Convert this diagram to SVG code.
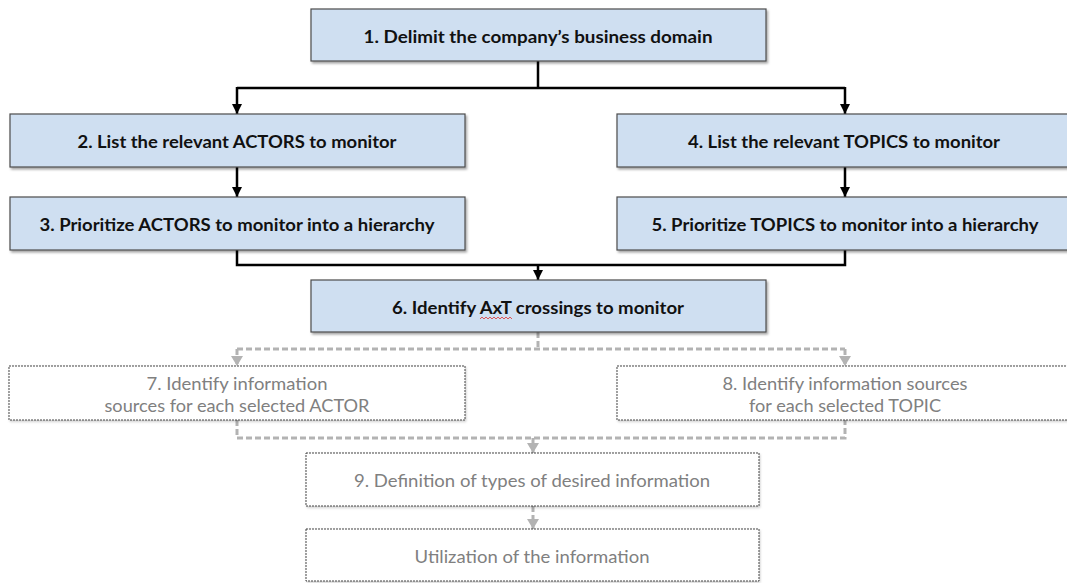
<svg xmlns="http://www.w3.org/2000/svg" width="1067" height="583" viewBox="0 0 1067 583">
<style>
.bx{fill:#cfdff1;stroke:#4d4d4d;stroke-width:1.2;filter:url(#sh)}
.dbx{fill:#ffffff;stroke:#444;stroke-width:1;stroke-dasharray:2 1;filter:url(#sh2)}
.bt{font-family:Lato,"Liberation Sans",sans-serif;font-weight:bold;font-size:16.5px;fill:#111;text-anchor:middle}
.gt{font-family:Lato,"Liberation Sans",sans-serif;font-size:16.5px;fill:#808080;text-anchor:middle}
.bl{fill:none;stroke:#000;stroke-width:2.5}
.ba{fill:none;stroke:#000;stroke-width:2.5;marker-end:url(#ab)}
.gl{fill:none;stroke:#b3b3b3;stroke-width:3;stroke-dasharray:6 3}
.ga{fill:none;stroke:#b3b3b3;stroke-width:3;stroke-dasharray:6 3;marker-end:url(#ag)}
</style>
<defs>
<filter id="sh" x="-5%" y="-20%" width="110%" height="150%">
<feDropShadow dx="1.5" dy="2" stdDeviation="1.2" flood-color="#000" flood-opacity="0.35"/>
</filter>
<filter id="sh2" x="-5%" y="-20%" width="110%" height="150%">
<feDropShadow dx="1" dy="1.5" stdDeviation="1" flood-color="#000" flood-opacity="0.2"/>
</filter>
<marker id="ab" markerUnits="userSpaceOnUse" markerWidth="12" markerHeight="10" refX="10" refY="5" orient="auto">
<path d="M0,0 L10,5 L0,10 z" fill="#000"/>
</marker>
<marker id="ag" markerUnits="userSpaceOnUse" markerWidth="12" markerHeight="12" refX="10" refY="6" orient="auto">
<path d="M0,0 L10,6 L0,12 z" fill="#b3b3b3"/>
</marker>
</defs>

<g id="connectors">
<path class="bl" d="M538,61 V88 M237,88 H845"/>
<path class="ba" d="M237,87 V114"/>
<path class="ba" d="M845,87 V114"/>
<path class="ba" d="M237,167 V197"/>
<path class="ba" d="M845,167 V197"/>
<path class="bl" d="M237,250 V265 H845 V250"/>
<path class="ba" d="M538,265 V280"/>
<path class="gl" d="M538,332 V349 M237,349 H845"/>
<path class="ga" d="M237,349 V366"/>
<path class="ga" d="M845,349 V366"/>
<path class="gl" d="M237,420 V438 H845 V420"/>
<path class="ga" d="M533,438 V453"/>
<path class="ga" d="M533,506 V529"/>
</g>

<g id="n1"><rect class="bx" x="311" y="9" width="455" height="52"/><text class="bt" x="538" y="43" textLength="349" lengthAdjust="spacingAndGlyphs">1. Delimit the company’s business domain</text></g>
<g id="n2"><rect class="bx" x="10" y="114" width="455" height="53"/><text class="bt" x="237" y="148" textLength="319" lengthAdjust="spacingAndGlyphs">2. List the relevant ACTORS to monitor</text></g>
<g id="n3"><rect class="bx" x="10" y="197" width="455" height="53"/><text class="bt" x="237" y="231" textLength="395" lengthAdjust="spacingAndGlyphs">3. Prioritize ACTORS to monitor into a hierarchy</text></g>
<g id="n4"><rect class="bx" x="617" y="114" width="456" height="53"/><text class="bt" x="844" y="148" textLength="312" lengthAdjust="spacingAndGlyphs">4. List the relevant TOPICS to monitor</text></g>
<g id="n5"><rect class="bx" x="617" y="197" width="456" height="53"/><text class="bt" x="845" y="231" textLength="387" lengthAdjust="spacingAndGlyphs">5. Prioritize TOPICS to monitor into a hierarchy</text></g>
<g id="n6"><rect class="bx" x="311" y="280" width="455" height="52"/><text class="bt" x="538" y="314" textLength="292" lengthAdjust="spacingAndGlyphs">6. Identify AxT crossings to monitor</text>
<path d="M480,319 l2,-2 l2,2 l2,-2 l2,2 l2,-2 l2,2 l2,-2 l2,2 l2,-2 l2,2 l2,-2 l2,2 l2,-2 l2,2 l2,-2 l2,2" fill="none" stroke="#e03030" stroke-width="0.8"/></g>
<g id="n7"><rect class="dbx" x="9" y="366" width="456" height="54"/><text class="gt" x="237" y="390" textLength="181" lengthAdjust="spacingAndGlyphs">7. Identify information</text><text class="gt" x="237" y="412" textLength="265" lengthAdjust="spacingAndGlyphs">sources for each selected ACTOR</text></g>
<g id="n8"><rect class="dbx" x="617" y="366" width="456" height="54"/><text class="gt" x="845" y="390" textLength="245" lengthAdjust="spacingAndGlyphs">8. Identify information sources</text><text class="gt" x="845" y="412" textLength="192" lengthAdjust="spacingAndGlyphs">for each selected TOPIC</text></g>
<g id="n9"><rect class="dbx" x="306" y="453" width="453" height="53"/><text class="gt" x="532" y="487" textLength="356" lengthAdjust="spacingAndGlyphs">9. Definition of types of desired information</text></g>
<g id="n10"><rect class="dbx" x="306" y="529" width="453" height="52"/><text class="gt" x="532" y="563" textLength="235" lengthAdjust="spacingAndGlyphs">Utilization of the information</text></g>
</svg>
